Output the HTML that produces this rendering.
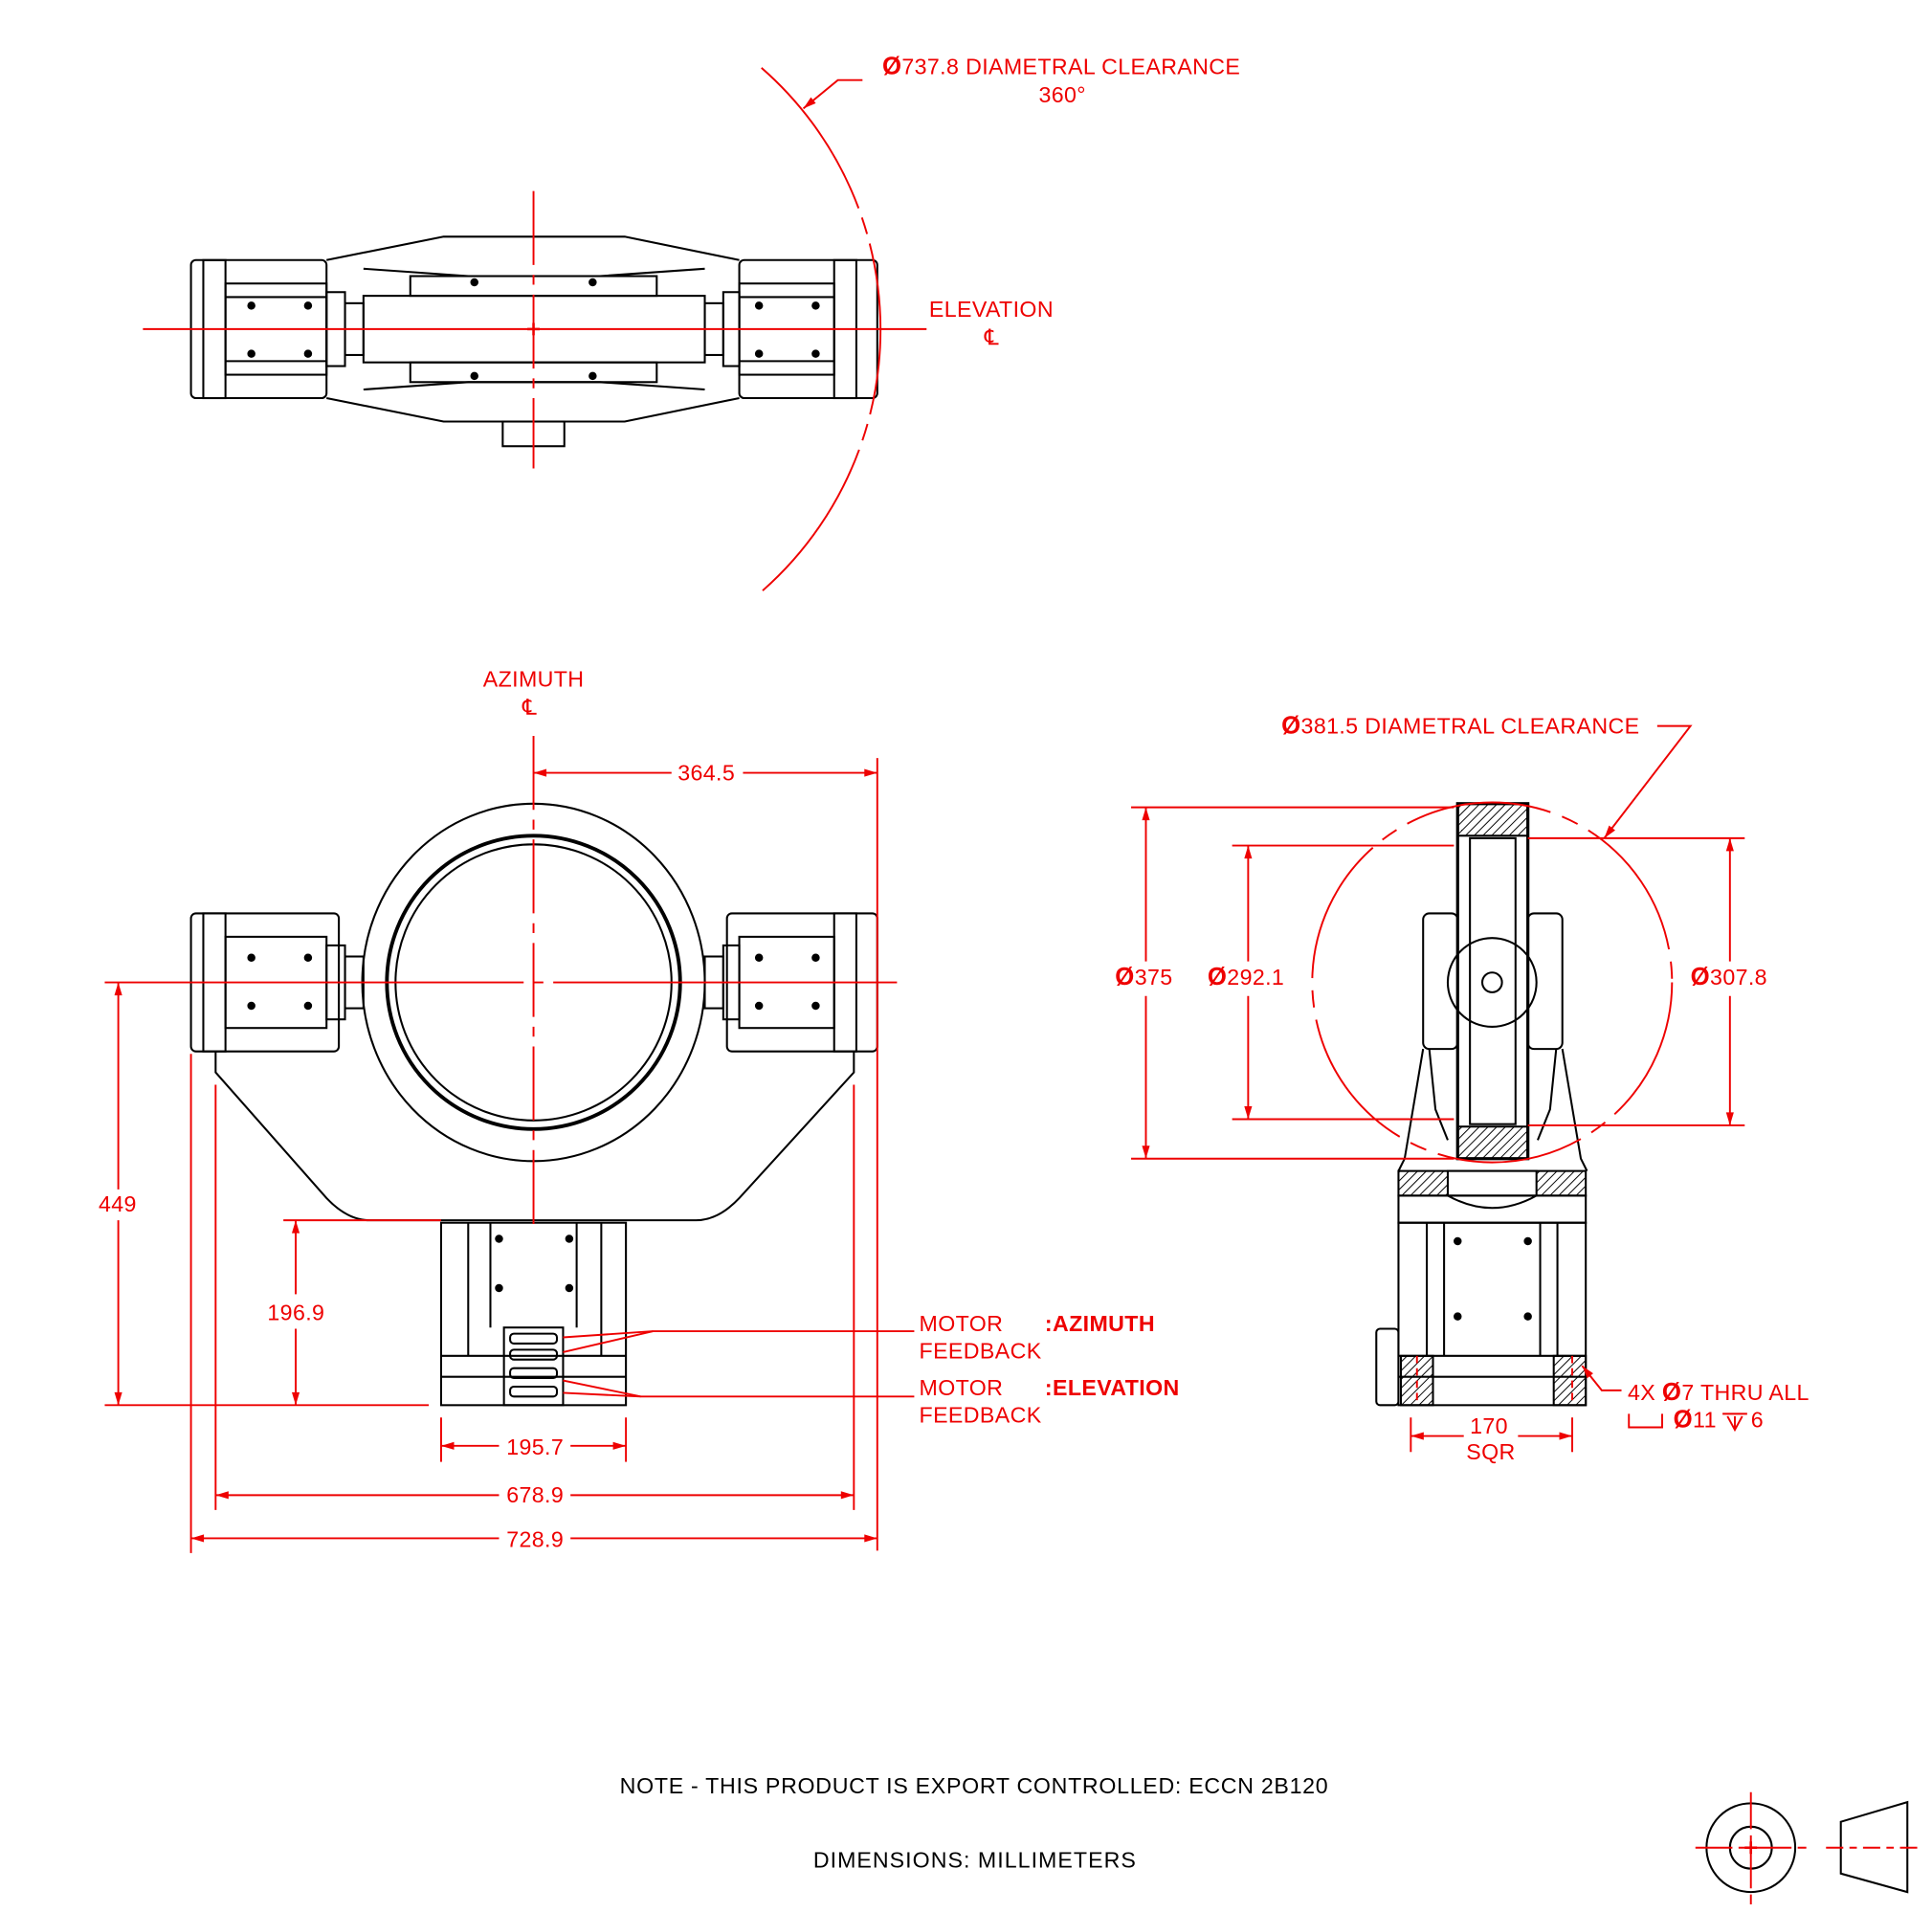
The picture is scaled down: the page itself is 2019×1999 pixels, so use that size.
<!DOCTYPE html>
<html><head><meta charset="utf-8"><style>
html,body{margin:0;padding:0;background:#fff;}
svg{display:block;}
text{font-family:"Liberation Sans",sans-serif;fill:#e00;font-size:18px;letter-spacing:0.3px;}
</style></head><body>
<svg width="2019" height="1999" viewBox="0 0 1568 1552" preserveAspectRatio="none" xmlns="http://www.w3.org/2000/svg">
<defs>
<marker id="a" viewBox="0 0 10 10" refX="10" refY="5" markerWidth="10" markerHeight="7" orient="auto-start-reverse"><path d="M0,2 L10,5 L0,8 z" fill="#e00"/></marker>
<pattern id="h" width="5" height="5" patternUnits="userSpaceOnUse" patternTransform="rotate(45)"><line x1="0" y1="0" x2="0" y2="5" stroke="#000" stroke-width="1.5"/></pattern>
</defs>
<g fill="none" stroke="#000" stroke-width="1.6">
<rect x="155" y="211" width="110" height="112" rx="4"/>
<rect x="165" y="211" width="18" height="112"/>
<rect x="183" y="230" width="82" height="74"/>
<line x1="183" y1="241" x2="265" y2="241"/><line x1="183" y1="293" x2="265" y2="293"/>
<rect x="600" y="211" width="112" height="112" rx="4"/>
<rect x="677" y="211" width="18" height="112"/>
<rect x="600" y="230" width="77" height="74"/>
<line x1="600" y1="241" x2="677" y2="241"/><line x1="600" y1="293" x2="677" y2="293"/>
<rect x="265" y="237" width="15" height="60"/><rect x="280" y="246" width="15" height="42"/>
<rect x="587" y="237" width="13" height="60"/><rect x="572" y="246" width="15" height="42"/>
<path d="M265,211 L360,192 L507,192 L600,211 M265,323 L360,342 L507,342 L600,323"/>
<path d="M295,218 L380,224 L487,224 L572,218 M295,316 L380,310 L487,310 L572,316"/>
<rect x="295" y="240" width="277" height="54"/>
<rect x="333" y="224" width="200" height="16"/><rect x="333" y="294" width="200" height="16"/>
<rect x="408" y="342" width="50" height="20"/>
<g fill="#000"><circle cx="204" cy="248" r="2.5"/><circle cx="250" cy="248" r="2.5"/><circle cx="204" cy="287" r="2.5"/><circle cx="250" cy="287" r="2.5"/>
<circle cx="616" cy="248" r="2.5"/><circle cx="662" cy="248" r="2.5"/><circle cx="616" cy="287" r="2.5"/><circle cx="662" cy="287" r="2.5"/>
<circle cx="385" cy="229" r="2.5"/><circle cx="481" cy="229" r="2.5"/><circle cx="385" cy="305" r="2.5"/><circle cx="481" cy="305" r="2.5"/></g>
<ellipse cx="433" cy="797" rx="139" ry="145"/><circle cx="433" cy="797" r="119" stroke-width="3"/><circle cx="433" cy="797" r="112"/>
<path d="M175,853 L175,870 L265,972 Q282,990 300,990 L565,990 Q583,990 600,972 L693,870 L693,853"/>
<rect x="155" y="741" width="120" height="112" rx="4"/>
<rect x="165" y="741" width="18" height="112"/>
<rect x="183" y="760" width="82" height="74"/>
<rect x="265" y="767" width="15" height="60"/><rect x="280" y="776" width="15" height="42"/>
<rect x="590" y="741" width="122" height="112" rx="4"/>
<rect x="677" y="741" width="18" height="112"/>
<rect x="600" y="760" width="77" height="74"/>
<rect x="587" y="767" width="13" height="60"/><rect x="572" y="776" width="15" height="42"/>
<g fill="#000"><circle cx="204" cy="777" r="2.5"/><circle cx="250" cy="777" r="2.5"/><circle cx="204" cy="816" r="2.5"/><circle cx="250" cy="816" r="2.5"/>
<circle cx="616" cy="777" r="2.5"/><circle cx="662" cy="777" r="2.5"/><circle cx="616" cy="816" r="2.5"/><circle cx="662" cy="816" r="2.5"/>
<circle cx="405" cy="1005" r="2.5"/><circle cx="462" cy="1005" r="2.5"/><circle cx="405" cy="1045" r="2.5"/><circle cx="462" cy="1045" r="2.5"/></g>
<rect x="358" y="992" width="150" height="148"/>
<line x1="380" y1="992" x2="380" y2="1100"/><line x1="398" y1="992" x2="398" y2="1077"/>
<line x1="468" y1="992" x2="468" y2="1077"/><line x1="488" y1="992" x2="488" y2="1100"/>
<line x1="358" y1="1100" x2="508" y2="1100"/><line x1="358" y1="1117" x2="508" y2="1117"/>
<rect x="409" y="1077" width="48" height="63"/>
<rect x="414" y="1082" width="38" height="8" rx="3"/><rect x="414" y="1095" width="38" height="8" rx="3"/><rect x="414" y="1110" width="38" height="8" rx="3"/><rect x="414" y="1125" width="38" height="8" rx="3"/>
<rect x="1183" y="652" width="57" height="288" stroke-width="2.5"/>
<rect x="1193" y="680" width="37" height="232"/>
<rect x="1183" y="652" width="57" height="26" fill="url(#h)"/><rect x="1183" y="914" width="57" height="26" fill="url(#h)"/>
<rect x="1155" y="741" width="28" height="110" rx="5"/><rect x="1240" y="741" width="28" height="110" rx="5"/>
<circle cx="1211" cy="797" r="8"/><circle cx="1211" cy="797" r="36"/>
<path d="M1155,851 L1140,940 L1135,950 M1268,851 L1283,940 L1288,950"/>
<path d="M1160,851 L1165,900 L1175,925 M1263,851 L1258,900 L1248,925"/>
<rect x="1135" y="950" width="152" height="20" fill="url(#h)"/>
<rect x="1175" y="950" width="72" height="20" fill="#fff"/>
<path d="M1135,970 L1287,970 L1287,992 L1135,992 Z M1175,970 Q1211,990 1247,970"/>
<rect x="1135" y="992" width="152" height="148"/>
<line x1="1158" y1="992" x2="1158" y2="1100"/><line x1="1172" y1="992" x2="1172" y2="1100"/>
<line x1="1250" y1="992" x2="1250" y2="1100"/><line x1="1264" y1="992" x2="1264" y2="1100"/>
<line x1="1135" y1="1100" x2="1287" y2="1100"/><line x1="1135" y1="1117" x2="1287" y2="1117"/>
<rect x="1117" y="1078" width="18" height="62" rx="3"/>
<rect x="1137" y="1100" width="26" height="40" fill="url(#h)"/><rect x="1261" y="1100" width="26" height="40" fill="url(#h)"/>
<g fill="#000"><circle cx="1183" cy="1007" r="2.5"/><circle cx="1240" cy="1007" r="2.5"/><circle cx="1183" cy="1068" r="2.5"/><circle cx="1240" cy="1068" r="2.5"/></g>
<circle cx="1421" cy="1499" r="36"/><circle cx="1421" cy="1499" r="17"/>
<path d="M1494,1478 L1548,1462 L1548,1535 L1494,1520 Z"/>
</g>
<g fill="none" stroke="#e00" stroke-width="1.5">
<line x1="116" y1="267" x2="752" y2="267"/>
<line x1="433" y1="155" x2="433" y2="380" stroke-dasharray="60,8,8,8"/>
<path d="M618,55 A282,282 0 0 1 618,480" stroke-dasharray="140,8,14,8"/>
<polyline points="700,65 680,65 652,88" marker-end="url(#a)"/>
<line x1="433" y1="597" x2="433" y2="1000" stroke-dasharray="60,8,8,8"/>
<line x1="85" y1="797" x2="728" y2="797" stroke-dasharray="340,8,8,8"/>
<line x1="712" y1="615" x2="712" y2="1258"/>
<line x1="433" y1="627" x2="545" y2="627" marker-start="url(#a)"/><line x1="603" y1="627" x2="712" y2="627" marker-end="url(#a)"/>
<line x1="85" y1="1140" x2="348" y2="1140"/><line x1="230" y1="990" x2="358" y2="990"/>
<line x1="96" y1="797" x2="96" y2="965" marker-start="url(#a)"/><line x1="96" y1="990" x2="96" y2="1140" marker-end="url(#a)"/>
<line x1="240" y1="990" x2="240" y2="1050" marker-start="url(#a)"/><line x1="240" y1="1078" x2="240" y2="1140" marker-end="url(#a)"/>
<line x1="358" y1="1150" x2="358" y2="1186"/><line x1="508" y1="1150" x2="508" y2="1186"/>
<line x1="358" y1="1173" x2="405" y2="1173" marker-start="url(#a)"/><line x1="463" y1="1173" x2="508" y2="1173" marker-end="url(#a)"/>
<line x1="175" y1="880" x2="175" y2="1225"/><line x1="693" y1="880" x2="693" y2="1225"/>
<line x1="155" y1="855" x2="155" y2="1260"/>
<line x1="175" y1="1213" x2="405" y2="1213" marker-start="url(#a)"/><line x1="463" y1="1213" x2="693" y2="1213" marker-end="url(#a)"/>
<line x1="155" y1="1248" x2="405" y2="1248" marker-start="url(#a)"/><line x1="463" y1="1248" x2="712" y2="1248" marker-end="url(#a)"/>
<polyline points="742,1080 530,1080 457,1097"/><line x1="530" y1="1080" x2="457" y2="1085"/>
<polyline points="742,1133 520,1133 457,1120"/><line x1="520" y1="1133" x2="457" y2="1130"/>
<circle cx="1211" cy="797" r="146" stroke-dasharray="120,10,14,10"/>
<line x1="918" y1="655" x2="1180" y2="655"/><line x1="918" y1="940" x2="1180" y2="940"/>
<line x1="1000" y1="686" x2="1180" y2="686"/><line x1="1000" y1="908" x2="1180" y2="908"/>
<line x1="1240" y1="680" x2="1416" y2="680"/><line x1="1240" y1="913" x2="1416" y2="913"/>
<line x1="930" y1="655" x2="930" y2="780" marker-start="url(#a)"/><line x1="930" y1="808" x2="930" y2="940" marker-end="url(#a)"/>
<line x1="1013" y1="686" x2="1013" y2="780" marker-start="url(#a)"/><line x1="1013" y1="808" x2="1013" y2="908" marker-end="url(#a)"/>
<line x1="1404" y1="680" x2="1404" y2="780" marker-start="url(#a)"/><line x1="1404" y1="808" x2="1404" y2="913" marker-end="url(#a)"/>
<polyline points="1345,589 1372,589 1302,680" marker-end="url(#a)"/>
<line x1="1145" y1="1150" x2="1145" y2="1178"/><line x1="1276" y1="1150" x2="1276" y2="1178"/>
<line x1="1145" y1="1165" x2="1188" y2="1165" marker-start="url(#a)"/><line x1="1232" y1="1165" x2="1276" y2="1165" marker-end="url(#a)"/>
<polyline points="1316,1128 1300,1128 1284,1108" marker-end="url(#a)"/>
<line x1="1276" y1="1100" x2="1276" y2="1140" stroke-dasharray="6,4"/>
<line x1="1150" y1="1100" x2="1150" y2="1140" stroke-dasharray="6,4"/>
<line x1="1376" y1="1499" x2="1466" y2="1499" stroke-dasharray="30,5,8,5"/>
<line x1="1421" y1="1454" x2="1421" y2="1545" stroke-dasharray="30,5,8,5"/>
<line x1="1482" y1="1499" x2="1560" y2="1499" stroke-dasharray="14,5,6,5"/>
<polyline points="1322,1147 1322,1158 1349,1158 1349,1147"/>
<line x1="1398" y1="1147" x2="1418" y2="1147"/>
<path d="M1402,1149 L1408,1160 L1414,1149" /><line x1="1408" y1="1149" x2="1408" y2="1160"/>
</g>
<g fill="#e00" stroke="none"><rect x="428" y="266" width="10" height="2"/><rect x="432" y="262" width="2" height="10"/>
<rect x="1416" y="1498" width="10" height="2"/><rect x="1420" y="1494" width="2" height="10"/></g>
<text x="716" y="60"><tspan font-weight="bold" font-size="20">Ø</tspan>737.8 DIAMETRAL CLEARANCE</text>
<text x="843" y="83">360°</text>
<text x="754" y="257">ELEVATION</text>
<text x="799" y="280">℄</text>
<text x="392" y="557">AZIMUTH</text>
<text x="424" y="580">℄</text>
<text x="550" y="633">364.5</text>
<text x="80" y="983">449</text>
<text x="217" y="1071">196.9</text>
<text x="411" y="1180">195.7</text>
<text x="411" y="1219">678.9</text>
<text x="411" y="1255">728.9</text>
<text x="746" y="1080">MOTOR</text><text x="848" y="1080" font-weight="bold">:AZIMUTH</text>
<text x="746" y="1102">FEEDBACK</text>
<text x="746" y="1132">MOTOR</text><text x="848" y="1132" font-weight="bold">:ELEVATION</text>
<text x="746" y="1154">FEEDBACK</text>
<text x="1040" y="595"><tspan font-weight="bold" font-size="20">Ø</tspan>381.5 DIAMETRAL CLEARANCE</text>
<text x="905" y="799"><tspan font-weight="bold" font-size="20">Ø</tspan>375</text>
<text x="980" y="799"><tspan font-weight="bold" font-size="20">Ø</tspan>292.1</text>
<text x="1372" y="799"><tspan font-weight="bold" font-size="20">Ø</tspan>307.8</text>
<text x="1193" y="1163">170</text>
<text x="1190" y="1184">SQR</text>
<text x="1321" y="1136">4X  <tspan font-weight="bold" font-size="20">Ø</tspan>7 THRU ALL</text>
<text x="1358" y="1158"><tspan font-weight="bold" font-size="20">Ø</tspan>11</text><text x="1421" y="1158">6</text>
<text x="503" y="1455" style="fill:#000" textLength="575">NOTE - THIS PRODUCT IS EXPORT CONTROLLED: ECCN 2B120</text>
<text x="660" y="1515" style="fill:#000" textLength="262">DIMENSIONS:  MILLIMETERS</text>
</svg>
</body></html>
